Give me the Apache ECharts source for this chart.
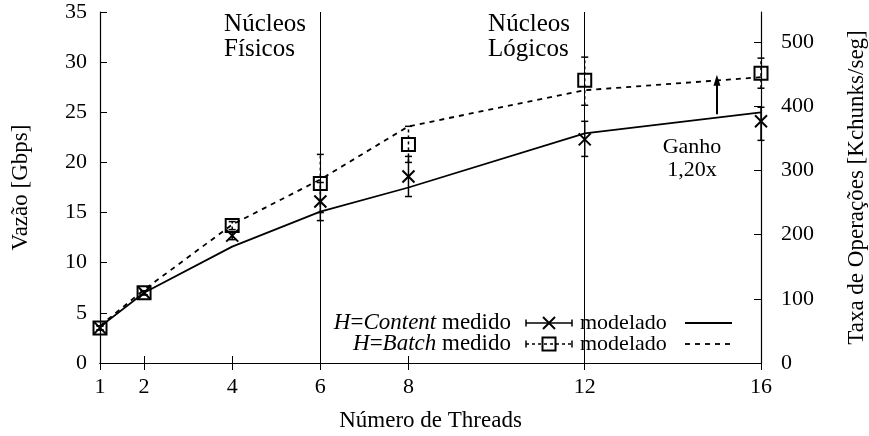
<!DOCTYPE html>
<html>
<head>
<meta charset="utf-8">
<script src="https://cdn.jsdelivr.net/npm/echarts@6/dist/echarts.min.js"></script>
<style>
  html, body { margin: 0; padding: 0; background: #fff; }
  #chart { width: 869px; height: 436px; }
</style>
</head>
<body>
<div id="chart"></div>
<script>
// Throughput vs. number of threads, measured (with error bars) and modelled
const threads = [1, 2, 4, 6, 8, 12, 16];

const contentMeasured = [3.5, 7.0, 12.7, 16.1, 18.6, 22.3, 24.1];
const contentLow      = [3.3, 6.8, 12.3, 14.2, 16.6, 20.6, 22.2];
const contentHigh     = [3.7, 7.2, 13.1, 18.0, 20.6, 24.1, 25.5];

const batchMeasured = [3.5, 7.0, 13.7, 17.9, 21.8, 28.2, 28.9];
const batchLow      = [3.3, 6.8, 13.3, 15.0, 20.0, 25.7, 27.4];
const batchHigh     = [3.7, 7.2, 14.1, 20.8, 23.6, 30.5, 30.4];

const contentModel = [3.6, 7.0, 11.6, 15.1, 17.5, 22.9, 25.0];
const batchModel   = [3.7, 7.3, 13.8, 18.3, 23.6, 27.2, 28.5];

const coreBoundaries = [6, 12];          // physical / logical core limits
const gainAt = 15;                       // where the gain arrow is drawn
const gainFrom = 24.8, gainTo = 28.2;    // Gbps span of the gain arrow

const leftTicks = [0, 5, 10, 15, 20, 25, 30, 35];
const rightTicks = [0, 100, 200, 300, 400, 500];
const gbpsMax = 35;
const kchunksPerGbps = 15.625;           // 8000-byte chunks

const FONT = "'Liberation Serif', 'DejaVu Serif', serif";
const FS = 22;
const FS_NAME = 23;
const FS_NOTE = 25;

const zip = (a, b) => a.map((v, i) => [v, b[i]]);
const measuredRows = (m, lo, hi) => threads.map((t, i) => [t, m[i], lo[i], hi[i]]);

function makeRender(kind) {
  return function (params, api) {
    const x = api.value(0);
    const p = api.coord([x, api.value(1)]);
    const pl = api.coord([x, api.value(2)]);
    const ph = api.coord([x, api.value(3)]);
    const dash = kind === 'batch' ? [3, 3] : null;
    const s = { stroke: '#000', lineWidth: 1.5, lineDash: dash, fill: null };
    const c = 3.5;
    const children = [
      { type: 'line', shape: { x1: pl[0], y1: pl[1], x2: ph[0], y2: ph[1] }, style: s },
      { type: 'line', shape: { x1: pl[0] - c, y1: pl[1], x2: pl[0] + c, y2: pl[1] }, style: { stroke: '#000', lineWidth: 1.5 } },
      { type: 'line', shape: { x1: ph[0] - c, y1: ph[1], x2: ph[0] + c, y2: ph[1] }, style: { stroke: '#000', lineWidth: 1.5 } }
    ];
    if (kind === 'content') {
      const r = 6;
      children.push(
        { type: 'line', shape: { x1: p[0] - r, y1: p[1] - r, x2: p[0] + r, y2: p[1] + r }, style: { stroke: '#000', lineWidth: 2 } },
        { type: 'line', shape: { x1: p[0] - r, y1: p[1] + r, x2: p[0] + r, y2: p[1] - r }, style: { stroke: '#000', lineWidth: 2 } }
      );
    } else {
      const r = 6.5;
      children.push(
        { type: 'rect', shape: { x: p[0] - r, y: p[1] - r, width: 2 * r, height: 2 * r }, style: { stroke: '#000', lineWidth: 2, fill: 'none' } }
      );
    }
    return { type: 'group', children };
  };
}

const chart = echarts.init(document.getElementById('chart'), null, { renderer: 'canvas' });

const axisText = { fontFamily: FONT, fontSize: FS, color: '#000' };
const nameText = { fontFamily: FONT, fontSize: FS_NAME, color: '#000' };
const tickStyle = { show: true, inside: true, length: 7, lineStyle: { color: '#000', width: 1 } };
const axisLineStyle = { show: true, lineStyle: { color: '#000', width: 1.2 } };

// legend row geometry
const lgX = 511, lgSym = 549, lgModel = 580, lgLine0 = 685, lgLine1 = 732;
const row1 = 323, row2 = 344;

const option = {
  animation: false,
  backgroundColor: '#fff',
  grid: { left: 100, right: 108, top: 12, bottom: 73, containLabel: false, outerBoundsMode: 'none' },
  xAxis: [
    {
      type: 'value', min: 1, max: 16, position: 'bottom',
      name: 'Número de Threads', nameLocation: 'middle', nameGap: 46,
      nameTextStyle: nameText,
      axisLine: axisLineStyle,
      axisTick: Object.assign({ customValues: threads }, tickStyle),
      axisLabel: Object.assign({ customValues: threads, margin: 13 }, axisText),
      splitLine: { show: false }
    },
    {
      type: 'value', min: 1, max: 16, position: 'top',
      axisLine: axisLineStyle,
      axisTick: Object.assign({ customValues: threads }, tickStyle),
      axisLabel: { show: false },
      splitLine: { show: false }
    }
  ],
  yAxis: [
    {
      type: 'value', min: 0, max: gbpsMax, interval: 5, position: 'left',
      name: 'Vazão [Gbps]', nameLocation: 'middle', nameGap: 68,
      nameTextStyle: nameText,
      axisLine: axisLineStyle,
      axisTick: Object.assign({ customValues: leftTicks }, tickStyle),
      axisLabel: Object.assign({ customValues: leftTicks, margin: 13 }, axisText),
      splitLine: { show: false }
    },
    {
      type: 'value', min: 0, max: gbpsMax * kchunksPerGbps, position: 'right',
      name: 'Taxa de Operações [Kchunks/seg]', nameLocation: 'middle', nameGap: 84,
      nameTextStyle: nameText,
      axisLine: axisLineStyle,
      axisTick: Object.assign({ customValues: rightTicks }, tickStyle),
      axisLabel: Object.assign({ customValues: rightTicks, margin: 20 }, axisText),
      splitLine: { show: false }
    }
  ],
  series: [
    {
      name: 'H=Content modelado', type: 'line', data: zip(threads, contentModel),
      showSymbol: false, symbol: 'none', smooth: false,
      lineStyle: { color: '#000', width: 1.8, type: 'solid' },
      markLine: {
        silent: true, symbol: 'none', label: { show: false },
        lineStyle: { color: '#000', width: 1, type: 'solid' },
        data: coreBoundaries.map(v => ({ xAxis: v }))
      },
      z: 2
    },
    {
      name: 'H=Batch modelado', type: 'line', data: zip(threads, batchModel),
      showSymbol: false, symbol: 'none',
      lineStyle: { color: '#000', width: 1.8, type: [5, 5] },
      markLine: {
        silent: true, symbol: ['none', 'triangle'], symbolSize: [7, 11], label: { show: false },
        lineStyle: { color: '#000', width: 2, type: 'solid' },
        data: [[{ coord: [gainAt, gainFrom] }, { coord: [gainAt, gainTo] }]]
      },
      z: 2
    },
    {
      name: 'H=Content medido', type: 'custom', renderItem: makeRender('content'),
      data: measuredRows(contentMeasured, contentLow, contentHigh),
      encode: { x: 0, y: 1 }, z: 3
    },
    {
      name: 'H=Batch medido', type: 'custom', renderItem: makeRender('batch'),
      data: measuredRows(batchMeasured, batchLow, batchHigh),
      encode: { x: 0, y: 1 }, z: 3
    }
  ],
  graphic: [
    // core region annotations
    { type: 'text', right: 869 - 306, top: 12, style: { text: 'Núcleos\nFísicos', font: FS_NOTE + 'px ' + FONT, fill: '#000', align: 'right', lineHeight: 25 } },
    { type: 'text', right: 869 - 570, top: 12, style: { text: 'Núcleos\nLógicos', font: FS_NOTE + 'px ' + FONT, fill: '#000', align: 'right', lineHeight: 25 } },
    { type: 'text', x: 692, y: 159, style: { text: 'Ganho\n1,20x', font: FS + 'px ' + FONT, fill: '#000', align: 'center', verticalAlign: 'middle', lineHeight: 23 } },

    // legend, row 1
    { type: 'text', x: lgX, y: row1, style: {
        text: '{i|H}=' + '{i|Content} medido', align: 'right', verticalAlign: 'middle',
        font: FS_NAME + 'px ' + FONT, fill: '#000',
        rich: { i: { fontStyle: 'italic', fontFamily: FONT, fontSize: FS_NAME, fill: '#000' } } } },
    { type: 'line', shape: { x1: lgSym - 23, y1: row1, x2: lgSym + 23, y2: row1 }, style: { stroke: '#000', lineWidth: 1.5 } },
    { type: 'line', shape: { x1: lgSym - 23, y1: row1 - 3.5, x2: lgSym - 23, y2: row1 + 3.5 }, style: { stroke: '#000', lineWidth: 1.5 } },
    { type: 'line', shape: { x1: lgSym + 23, y1: row1 - 3.5, x2: lgSym + 23, y2: row1 + 3.5 }, style: { stroke: '#000', lineWidth: 1.5 } },
    { type: 'line', shape: { x1: lgSym - 6, y1: row1 - 6, x2: lgSym + 6, y2: row1 + 6 }, style: { stroke: '#000', lineWidth: 2 } },
    { type: 'line', shape: { x1: lgSym - 6, y1: row1 + 6, x2: lgSym + 6, y2: row1 - 6 }, style: { stroke: '#000', lineWidth: 2 } },
    { type: 'text', x: lgModel, y: row1, style: { text: 'modelado', font: FS + 'px ' + FONT, fill: '#000', verticalAlign: 'middle' } },
    { type: 'line', shape: { x1: lgLine0, y1: row1, x2: lgLine1, y2: row1 }, style: { stroke: '#000', lineWidth: 1.8 } },

    // legend, row 2
    { type: 'text', x: lgX, y: row2, style: {
        text: '{i|H}=' + '{i|Batch} medido', align: 'right', verticalAlign: 'middle',
        font: FS_NAME + 'px ' + FONT, fill: '#000',
        rich: { i: { fontStyle: 'italic', fontFamily: FONT, fontSize: FS_NAME, fill: '#000' } } } },
    { type: 'line', shape: { x1: lgSym - 23, y1: row2, x2: lgSym + 23, y2: row2 }, style: { stroke: '#000', lineWidth: 1.5, lineDash: [3, 3] } },
    { type: 'line', shape: { x1: lgSym - 23, y1: row2 - 3.5, x2: lgSym - 23, y2: row2 + 3.5 }, style: { stroke: '#000', lineWidth: 1.5 } },
    { type: 'line', shape: { x1: lgSym + 23, y1: row2 - 3.5, x2: lgSym + 23, y2: row2 + 3.5 }, style: { stroke: '#000', lineWidth: 1.5 } },
    { type: 'rect', shape: { x: lgSym - 6.5, y: row2 - 6.5, width: 13, height: 13 }, style: { stroke: '#000', lineWidth: 2, fill: 'none' } },
    { type: 'text', x: lgModel, y: row2, style: { text: 'modelado', font: FS + 'px ' + FONT, fill: '#000', verticalAlign: 'middle' } },
    { type: 'line', shape: { x1: lgLine0, y1: row2, x2: lgLine1, y2: row2 }, style: { stroke: '#000', lineWidth: 1.8, lineDash: [5, 5] } }
  ]
};

chart.setOption(option);
</script>
</body>
</html>
